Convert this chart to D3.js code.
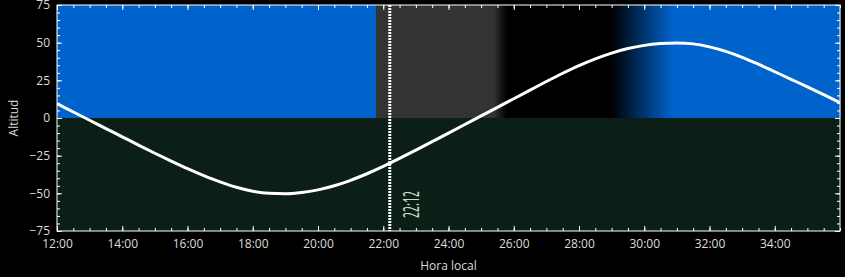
<!DOCTYPE html>
<html lang="es">
<head>
    <meta charset="UTF-8">
    <title>Altitud</title>
    <script src="https://d3js.org/d3.v7.min.js"></script>
    <style>
        body { margin: 0; background: #000; }
        text { font-family: "Open Sans", "Noto Sans", sans-serif; }
    </style>
</head>
<body>
    <svg class="canvas"></svg>
    <script>
        var svg_width = 845, svg_height = 277;

        // altitude curve, read every half hour (hours past midnight of day 1)
        var hours = [12, 12.5, 13, 13.5, 14, 14.5, 15, 15.5, 16, 16.5, 17, 17.5, 18, 18.5, 19, 19.5,
                     20, 20.5, 21, 21.5, 22, 22.5, 23, 23.5, 24, 24.5, 25, 25.5, 26, 26.5, 27, 27.5,
                     28, 28.5, 29, 29.5, 30, 30.5, 31, 31.5, 32, 32.5, 33, 33.5, 34, 34.5, 35, 35.5, 36];
        var altitude = [9.5, 4.0, -1.5, -7.0, -12.5, -18.0, -23.4, -28.6, -33.6, -38.2, -42.4, -46.0, -48.6, -50.0, -50.3, -49.5,
                        -47.7, -45.0, -41.4, -37.0, -32.1, -26.8, -21.3, -15.7, -10.0, -4.3, 1.4, 7.1, 12.8, 18.5, 24.2, 29.7,
                        34.8, 39.3, 43.1, 46.1, 48.2, 49.4, 49.8, 49.2, 47.2, 44.2, 40.3, 35.7, 30.7, 25.7, 20.7, 15.5, 10.1];

        // sky bands above the horizon
        var bandStart = [12, 21.78, 25.38, 25.78, 28.98, 30.85];
        var bandEnd   = [21.78, 25.38, 25.78, 28.98, 30.85, 36];
        var bandFrom  = ['#0062cb', '#333333', '#333333', '#000000', '#000000', '#0062cb'];
        var bandTo    = ['#0062cb', '#333333', '#000000', '#000000', '#0062cb', '#0062cb'];

        var xTicks = [12, 14, 16, 18, 20, 22, 24, 26, 28, 30, 32, 34];
        var yTicks = [-75, -50, -25, 0, 25, 50, 75];

        var marker = 22.2, markerLabel = '22:12';

        var margin = {left: 57, right: 5, top: 5, bottom: 46};
        var xScale = d3.scaleLinear().domain([12, 36]).range([margin.left, svg_width - margin.right]),
            yScale = d3.scaleLinear().domain([-75, 75]).range([svg_height - margin.bottom, margin.top]);

        var svg = d3.select('svg').attr('width', svg_width).attr('height', svg_height);
        var defs = svg.append('defs');

        // below horizon
        svg.append('rect')
            .attr('x', xScale(12)).attr('y', yScale(0))
            .attr('width', xScale(36) - xScale(12))
            .attr('height', yScale(-75) - yScale(0))
            .attr('fill', '#0c1f16');

        for (var i = 0; i < bandStart.length; i++) {
            var grad = defs.append('linearGradient')
                .attr('id', 'band' + i)
                .attr('x1', '0%').attr('x2', '100%')
                .attr('y1', '0%').attr('y2', '0%');
            grad.append('stop').attr('offset', '0%').attr('stop-color', bandFrom[i]);
            grad.append('stop').attr('offset', '100%').attr('stop-color', bandTo[i]);

            svg.append('rect')
                .attr('x', xScale(bandStart[i]))
                .attr('y', yScale(75))
                .attr('width', xScale(bandEnd[i]) - xScale(bandStart[i]) + 0.5)
                .attr('height', yScale(0) - yScale(75))
                .attr('fill', 'url(#band' + i + ')');
        }

        defs.append('clipPath').attr('id', 'plot')
            .append('rect')
            .attr('x', xScale(12)).attr('y', yScale(75))
            .attr('width', xScale(36) - xScale(12))
            .attr('height', yScale(-75) - yScale(75));

        // altitude line
        var points = hours.map(function(h, i) { return [h, altitude[i]]; });
        var line = d3.line()
            .x(function(d) { return xScale(d[0]); })
            .y(function(d) { return yScale(d[1]); })
            .curve(d3.curveMonotoneX);

        svg.append('path')
            .datum(points)
            .attr('clip-path', 'url(#plot)')
            .attr('d', line)
            .attr('fill', 'none')
            .attr('stroke', '#ffffff')
            .attr('stroke-width', 3);

        // current time marker
        svg.append('line')
            .attr('x1', xScale(marker)).attr('x2', xScale(marker))
            .attr('y1', yScale(75)).attr('y2', yScale(-75))
            .attr('stroke', '#ffffff')
            .attr('stroke-width', 3)
            .attr('stroke-dasharray', '2,1');

        svg.append('text')
            .attr('transform', 'translate(' + (xScale(marker) + 29) + ',' + (yScale(-75) - 13) + ') rotate(-90)')
            .attr('font-family', '"DejaVu Sans Condensed", "DejaVu Sans", sans-serif')
            .attr('font-stretch', 'condensed')
            .attr('font-size', 22)
            .attr('textLength', 27)
            .attr('lengthAdjust', 'spacingAndGlyphs')
            .attr('fill', '#c8dccb')
            .text(markerLabel);

        // axes
        var fmtHour = function(d) { return d + ':00'; };
        var minorX = d3.range(12, 36.01, 0.5), minorY = d3.range(-75, 75.01, 5);

        svg.append('g').attr('transform', 'translate(0,' + yScale(-75) + ')')
            .call(d3.axisBottom(xScale).tickValues(xTicks).tickFormat(fmtHour).tickSizeInner(-5).tickSizeOuter(0).tickPadding(8));
        svg.append('g').attr('transform', 'translate(0,' + yScale(-75) + ')')
            .call(d3.axisBottom(xScale).tickValues(minorX).tickFormat('').tickSizeInner(-3).tickSizeOuter(0));
        svg.append('g').attr('transform', 'translate(0,' + yScale(75) + ')')
            .call(d3.axisTop(xScale).tickValues(xTicks).tickFormat('').tickSizeInner(-5).tickSizeOuter(0));
        svg.append('g').attr('transform', 'translate(0,' + yScale(75) + ')')
            .call(d3.axisTop(xScale).tickValues(minorX).tickFormat('').tickSizeInner(-3).tickSizeOuter(0));

        svg.append('g').attr('transform', 'translate(' + xScale(12) + ',0)')
            .call(d3.axisLeft(yScale).tickValues(yTicks).tickFormat(d3.format('d')).tickSizeInner(-5).tickSizeOuter(0).tickPadding(7));
        svg.append('g').attr('transform', 'translate(' + xScale(12) + ',0)')
            .call(d3.axisLeft(yScale).tickValues(minorY).tickFormat('').tickSizeInner(-3).tickSizeOuter(0));
        svg.append('g').attr('transform', 'translate(' + xScale(36) + ',0)')
            .call(d3.axisRight(yScale).tickValues(yTicks).tickFormat('').tickSizeInner(-5).tickSizeOuter(0));
        svg.append('g').attr('transform', 'translate(' + xScale(36) + ',0)')
            .call(d3.axisRight(yScale).tickValues(minorY).tickFormat('').tickSizeInner(-3).tickSizeOuter(0));

        svg.selectAll('.domain').remove();
        svg.selectAll('.tick line').attr('stroke', '#ffffff');
        svg.selectAll('.tick text')
            .attr('fill', '#dcdcdc')
            .attr('font-size', 12)
            .attr('font-family', '"Open Sans", sans-serif');

        svg.append('rect')
            .attr('x', xScale(12)).attr('y', yScale(75))
            .attr('width', xScale(36) - xScale(12))
            .attr('height', yScale(-75) - yScale(75))
            .attr('fill', 'none')
            .attr('stroke', '#ffffff')
            .attr('stroke-width', 1);

        // titles
        svg.append('text')
            .attr('x', (xScale(12) + xScale(36)) / 2)
            .attr('y', 270)
            .attr('text-anchor', 'middle')
            .attr('font-size', 12)
            .attr('fill', '#dcdcdc')
            .text('Hora local');

        svg.append('text')
            .attr('transform', 'translate(18,' + yScale(0) + ') rotate(-90)')
            .attr('text-anchor', 'middle')
            .attr('font-size', 12)
            .attr('fill', '#dcdcdc')
            .text('Altitud');
    </script>
</body>
</html>
